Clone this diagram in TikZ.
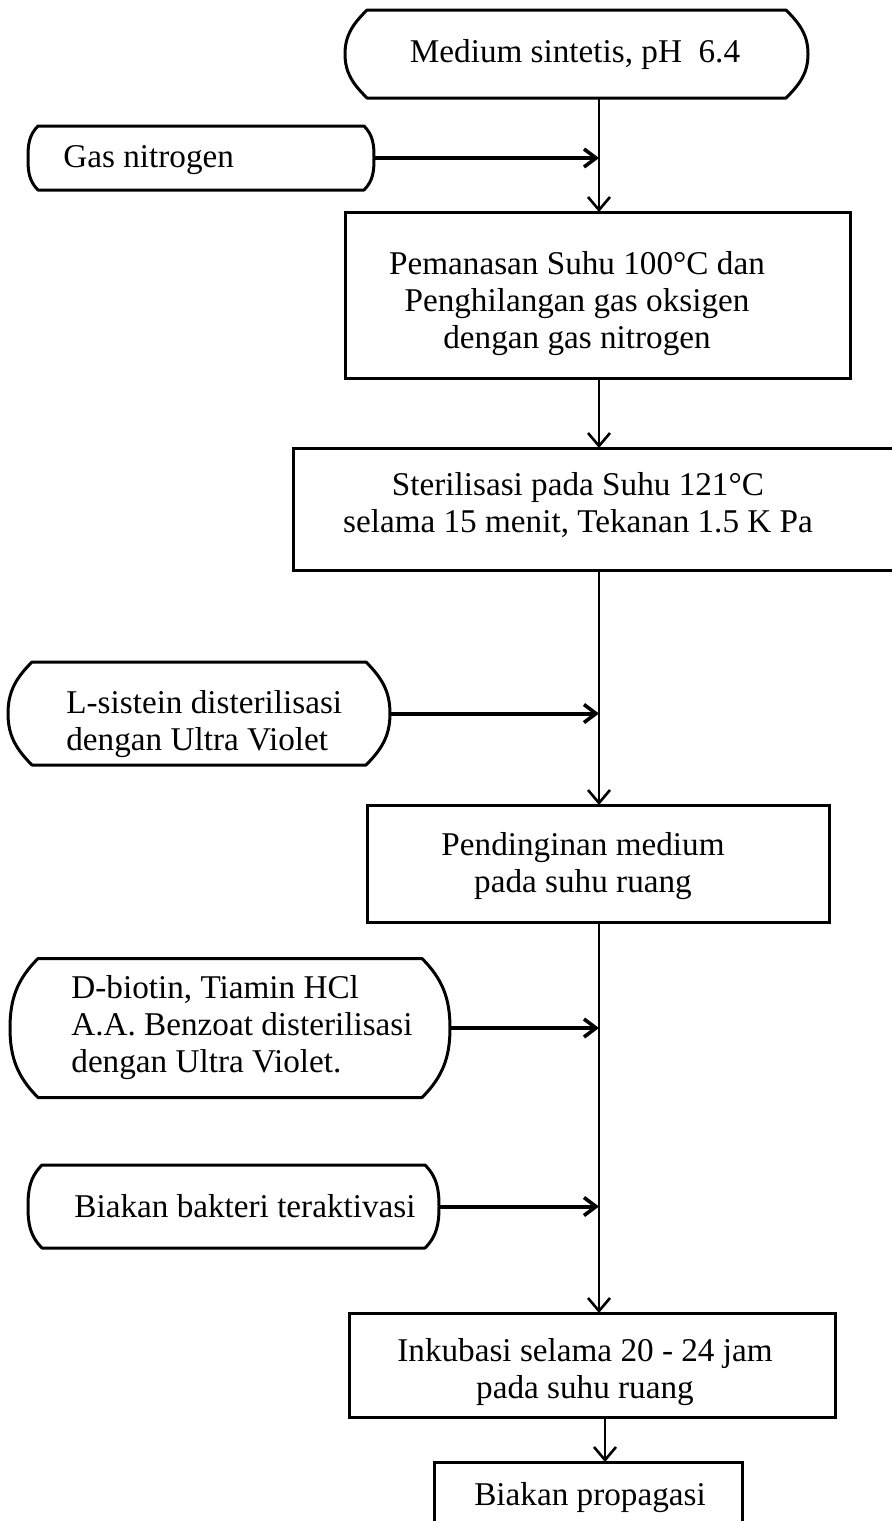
\documentclass[tikz,border=0pt]{standalone}
\usepackage{fontspec}
\setmainfont{Liberation Serif}
\usetikzlibrary{arrows.meta,calc}
\tikzset{
  boxnode/.style={draw, line width=1.5pt, inner sep=0pt, outer sep=0pt},
  termnode/.style={inner sep=0pt, outer sep=0pt},
  termline/.style={line width=1.5pt, line join=round},
  txt/.style={font=\fontsize{16.6}{18.5}\selectfont, align=center, inner sep=0pt},
  txtl/.style={txt, align=left, anchor=west},
  vline/.style={line width=1pt, -{Straight Barb[length=6.5pt,width=11pt,line width=1.3pt]}},
  hline/.style={line width=2pt, -{Straight Barb[length=6pt,width=9pt,line width=1.8pt]}},
}
\newcommand{\termborder}[2]{%
  \draw[termline] ([xshift=#2]#1.north west) -- ([xshift=-#2]#1.north east)
    to[out=-45,in=90] (#1.east) to[out=-90,in=45] ([xshift=-#2]#1.south east)
    -- ([xshift=#2]#1.south west)
    to[out=135,in=-90] (#1.west) to[out=90,in=-135] ([xshift=#2]#1.north west) -- cycle;}
\begin{document}
\begin{tikzpicture}[x=0.5pt,y=-0.5pt]
\useasboundingbox (0,0) rectangle (891,1521);
% main line x positions
\coordinate (mx) at (599,0);
\coordinate (px) at (605,0);
% terminal (rounded-side) nodes
\node[termnode, minimum width=231.5pt, minimum height=44pt] (start) at (576.5,54) {};
\node[termnode, minimum width=173pt, minimum height=32pt] (gas) at (201,158) {};
\node[termnode, minimum width=191pt, minimum height=51.5pt] (lsis) at (199,713.5) {};
\node[termnode, minimum width=220pt, minimum height=69.5pt] (dbio) at (230,1028) {};
\node[termnode, minimum width=205.5pt, minimum height=41.5pt] (biak) at (233.5,1206.5) {};
\termborder{start}{11pt}
\termborder{gas}{5pt}
\termborder{lsis}{12pt}
\termborder{dbio}{14pt}
\termborder{biak}{7pt}
% process boxes
\node[boxnode, minimum width=252.5pt, minimum height=83pt] (pem) at (597.5,295) {};
\node[boxnode, minimum width=306pt, minimum height=61pt] (ster) at (599,509) {};
\node[boxnode, minimum width=231pt, minimum height=58.5pt] (pend) at (598,863.5) {};
\node[boxnode, minimum width=243pt, minimum height=52pt] (inku) at (592,1365) {};
\node[boxnode, minimum width=154pt, minimum height=41.5pt] (prop) at (588,1503.5) {};
% texts
\node[txt] (startT) at (575,55) {Medium sintetis, pH~ 6.4};
\node[txtl] (gasT) at (63,160) {Gas nitrogen};
\node[txt] (pemT) at (577,304) {Pemanasan Suhu 100°C dan\\Penghilangan gas oksigen\\dengan gas nitrogen};
\node[txt] (sterT) at (578,505) {Sterilisasi pada Suhu 121°C\\selama 15 menit, Tekanan 1.5 K Pa};
\node[txtl] (lsisT) at (66,724) {L-sistein disterilisasi\\dengan Ultra Violet};
\node[txt] (pendT) at (583,866) {Pendinginan medium\\pada suhu ruang};
\node[txtl] (dbioT) at (71,1028) {D-biotin, Tiamin HCl\\A.A. Benzoat disterilisasi\\dengan Ultra Violet.};
\node[txtl] (biakT) at (74,1206) {Biakan bakteri teraktivasi};
\node[txt] (inkuT) at (585,1372) {Inkubasi selama 20 - 24 jam\\pada suhu ruang};
\node[txt] (propT) at (590,1498) {Biakan propagasi};
% connectors
\draw[vline] (start.south -| mx) -- (pem.north -| mx);
\draw[hline] (gas.east) -- (gas.east -| mx);
\draw[vline] (pem.south -| mx) -- (ster.north -| mx);
\draw[vline] (ster.south -| mx) -- (pend.north -| mx);
\draw[hline] (lsis.east) -- (lsis.east -| mx);
\draw[vline] (pend.south -| mx) -- (inku.north -| mx);
\draw[hline] (dbio.east) -- (dbio.east -| mx);
\draw[hline] (biak.east) -- (biak.east -| mx);
\draw[vline] (inku.south -| px) -- (prop.north -| px);
\end{tikzpicture}
\end{document}
